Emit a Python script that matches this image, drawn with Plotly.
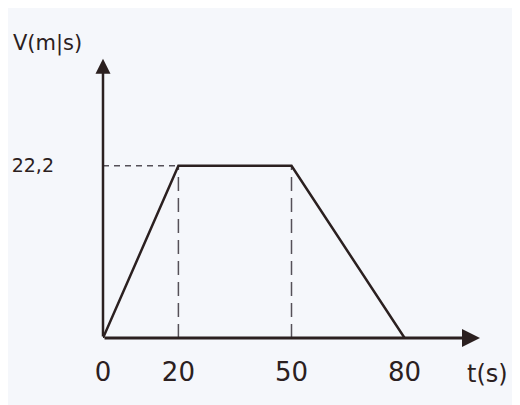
import plotly.graph_objects as go

# velocity-time profile
t = [0, 20, 50, 80]
v = [0, 22.2, 22.2, 0]
tick_t = [0, 20, 50, 80]
tick_t_text = ["0", "20", "50", "80"]
tick_v = [22.2]
tick_v_text = ["22,2"]

INK = "#2b2020"
DASH = "#555058"
BG = "#f5f7fb"

fig = go.Figure()

# dashed guides: horizontal at v max, verticals at the ends of the plateau
fig.add_trace(go.Scatter(x=[0, t[1]], y=[v[1], v[1]], mode="lines",
                         line=dict(color=DASH, width=1.5, dash="6px,5px"),
                         hoverinfo="skip", showlegend=False))
for tt, vv in zip(t[1:3], v[1:3]):
    fig.add_trace(go.Scatter(x=[tt, tt], y=[0, vv], mode="lines",
                             line=dict(color=DASH, width=1.5, dash="14px,7px"),
                             hoverinfo="skip", showlegend=False))

fig.add_trace(go.Scatter(x=t, y=v, mode="lines",
                         line=dict(color=INK, width=2.5),
                         showlegend=False))

# axes with arrow heads
fig.add_annotation(x=100, y=0, ax=0, ay=0, xref="x", yref="y", axref="x", ayref="y",
                   showarrow=True, arrowhead=2, arrowsize=1.2, arrowwidth=3,
                   arrowcolor=INK, text="")
fig.add_annotation(x=0, y=36, ax=0, ay=0, xref="x", yref="y", axref="x", ayref="y",
                   showarrow=True, arrowhead=2, arrowsize=1.2, arrowwidth=2.5,
                   arrowcolor=INK, text="")

fig.add_annotation(text="V(m|s)", xref="paper", yref="paper", x=-0.245, y=1.05,
                   xanchor="left", yanchor="middle", showarrow=False,
                   font=dict(size=21, color=INK))
fig.add_annotation(text="t(s)", xref="paper", yref="paper", x=1.08, y=-0.13,
                   xanchor="right", yanchor="middle", showarrow=False,
                   font=dict(size=24, color=INK))

fig.update_xaxes(range=[0, 100], tickvals=tick_t, ticktext=tick_t_text,
                 showgrid=False, zeroline=False, showline=False, ticks="",
                 automargin=False,
                 ticklabelstandoff=16, tickfont=dict(size=26, color=INK))
fig.update_yaxes(range=[0, 36.1], tickvals=tick_v, ticktext=tick_v_text,
                 showgrid=False, zeroline=False, showline=False, ticks="",
                 automargin=False,
                 ticklabelstandoff=48, tickfont=dict(size=19, color=INK))

fig.update_layout(
    width=520, height=405,
    margin=dict(l=95, r=48, t=50, b=75),
    paper_bgcolor=BG, plot_bgcolor=BG,
    font=dict(family="DejaVu Sans", color=INK),
)

fig.write_html("out.html")
